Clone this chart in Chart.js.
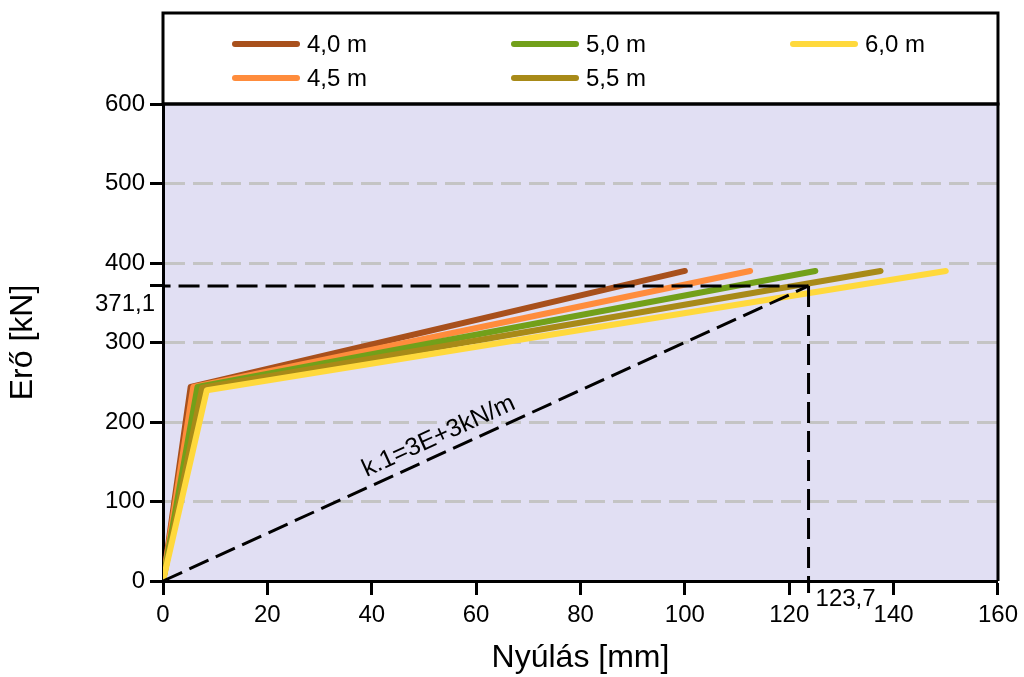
<!DOCTYPE html>
<html>
<head>
<meta charset="utf-8">
<script src="https://cdn.jsdelivr.net/npm/chart.js@4"></script>
<style>
  body { margin: 0; background: #fff; }
  #wrap { width: 1024px; height: 677px; }
</style>
</head>
<body>
<div id="wrap"><canvas id="myChart" width="1024" height="677"></canvas></div>
<script>
// Data
var seriesLabels = ['4,0 m', '4,5 m', '5,0 m', '5,5 m', '6,0 m'];
var kneeX = [5.3, 5.8, 6.6, 7.5, 8.4];   // end of the steep part [mm]
var kneeY = [244, 244, 244, 243, 240];   // [kN]
var endX = [100, 112.5, 125, 137.5, 150];
var endY = [390, 390, 390, 390, 390];
var seriesColors = ['#A8501C', '#FF8C3C', '#72A01A', '#A88A18', '#FFD93C'];

var refX = 123.7;
var refY = 371.1;
var refXLabel = '123,7';
var refYLabel = '371,1';
var refYBottom = -15;  // vertical dashed line runs below the axis
var stiffLabel = 'k.1=3E+3kN/m';

var xTicks = [0, 20, 40, 60, 80, 100, 120, 140, 160];
var yTicks = [0, 100, 200, 300, 400, 500, 600];

var FONT = "'Liberation Sans', Arial, sans-serif";

var datasets = [];
for (var i = 0; i < seriesLabels.length; i++) {
  datasets.push({
    label: seriesLabels[i],
    data: [{x: 0, y: 0}, {x: kneeX[i], y: kneeY[i]}, {x: endX[i], y: endY[i]}],
    borderColor: seriesColors[i],
    borderWidth: 6,
    borderCapStyle: 'round',
    borderJoinStyle: 'round',
    pointRadius: 0,
    order: seriesLabels.length - i,
    isSeries: true
  });
}
var dashStyle = {borderColor: '#000', borderWidth: 3, borderDash: [21, 8], pointRadius: 0, clip: false, order: -1};
datasets.push(Object.assign({label: 'k', data: [{x: 0, y: 0}, {x: refX, y: refY}]}, dashStyle));
datasets.push(Object.assign({label: 'h', data: [{x: refX, y: refY}, {x: 0, y: refY}]}, dashStyle));
datasets.push(Object.assign({label: 'v', data: [{x: refX, y: refY}, {x: refX, y: refYBottom}]}, dashStyle));

// plot background, frame, legend box, annotation texts
var decor = {
  id: 'decor',
  beforeDraw: function (chart) {
    var a = chart.chartArea, ctx = chart.ctx;
    ctx.save();
    ctx.fillStyle = '#E1DFF3';
    ctx.fillRect(a.left, a.top, a.right - a.left, a.bottom - a.top);
    ctx.restore();
  },
  afterDraw: function (chart) {
    var a = chart.chartArea, ctx = chart.ctx;
    ctx.save();
    ctx.strokeStyle = '#000';
    ctx.lineWidth = 3;
    // frame top + right
    ctx.beginPath();
    ctx.moveTo(a.left, a.top);
    ctx.lineTo(a.right, a.top);
    ctx.lineTo(a.right, a.bottom);
    ctx.stroke();
    // legend box
    ctx.strokeRect(a.left, 13, a.right - a.left, a.top - 13);

    var cols = [235, 514, 793], rows = [44, 78];
    var items = chart.data.datasets.filter(function (d) { return d.isSeries; });
    ctx.font = '24px ' + FONT;
    ctx.textBaseline = 'middle';
    ctx.textAlign = 'left';
    items.forEach(function (d, k) {
      var cx = cols[Math.floor(k / 2)], cy = rows[k % 2];
      ctx.strokeStyle = d.borderColor;
      ctx.lineWidth = 6;
      ctx.lineCap = 'round';
      ctx.beginPath();
      ctx.moveTo(cx, cy);
      ctx.lineTo(cx + 62, cy);
      ctx.stroke();
      ctx.fillStyle = '#000';
      ctx.fillText(d.label, cx + 72, cy + 1);
    });

    var xs = chart.scales.x, ys = chart.scales.y;
    // reference values
    ctx.fillStyle = '#000';
    ctx.textAlign = 'right';
    ctx.fillText(refYLabel, xs.left - 8, ys.getPixelForValue(refY) + 18);
    ctx.textAlign = 'left';
    ctx.fillText(refXLabel, xs.getPixelForValue(refX) + 7, ys.bottom + 18);

    // stiffness label along the diagonal
    var px0 = xs.getPixelForValue(0), py0 = ys.getPixelForValue(0);
    var px1 = xs.getPixelForValue(refX), py1 = ys.getPixelForValue(refY);
    var ang = Math.atan2(py1 - py0, px1 - px0);
    var t = 0.438;
    ctx.translate(px0 + (px1 - px0) * t, py0 + (py1 - py0) * t);
    ctx.rotate(ang);
    ctx.textAlign = 'center';
    ctx.textBaseline = 'alphabetic';
    ctx.font = '25px ' + FONT;
    ctx.fillText(stiffLabel, 0, -10);
    ctx.restore();
  }
};

var myChart = new Chart(document.getElementById('myChart').getContext('2d'), {
  type: 'line',
  data: {datasets: datasets},
  plugins: [decor],
  options: {
    responsive: false,
    animation: false,
    layout: {padding: {left: 0, top: 104, right: 26, bottom: 0}},
    plugins: {legend: {display: false}, tooltip: {enabled: false}},
    elements: {line: {tension: 0}},
    scales: {
      x: {
        type: 'linear',
        min: 0, max: 160,
        afterBuildTicks: function (s) { s.ticks = xTicks.map(function (v) { return {value: v}; }); },
        afterFit: function (s) { s.height = 96; },
        ticks: {color: '#000', font: {family: FONT, size: 24}, padding: 6, autoSkip: false, maxRotation: 0},
        grid: {drawOnChartArea: false, tickColor: '#000', tickWidth: 3, tickLength: 14},
        border: {color: '#000', width: 3},
        title: {display: true, text: 'Nyúlás [mm]', color: '#000', font: {family: FONT, size: 32}, padding: {top: 0, bottom: 0}}
      },
      y: {
        min: 0, max: 600,
        afterBuildTicks: function (s) {
          var v = yTicks.slice();
          v.push(refY);
          v.sort(function (a, b) { return a - b; });
          s.ticks = v.map(function (x) { return {value: x}; });
        },
        afterFit: function (s) { s.width = 163; },
        ticks: {
          color: '#000', font: {family: FONT, size: 24}, padding: 5, autoSkip: false,
          callback: function (v) { return v === refY ? '' : String(v); }
        },
        grid: {
          color: function (c) {
            var v = c.tick ? c.tick.value : 0;
            return (v > 0 && v < 600 && v !== refY) ? '#C4C4C4' : 'rgba(0,0,0,0)';
          },
          lineWidth: 3, tickColor: '#000', tickWidth: 3, tickLength: 13
        },
        border: {color: '#000', width: 3, dash: [20, 8]},
        title: {display: true, text: 'Erő [kN]', color: '#000', font: {family: FONT, size: 32}, padding: {top: 4, bottom: 0}}
      }
    }
  }
});
</script>
</body>
</html>
